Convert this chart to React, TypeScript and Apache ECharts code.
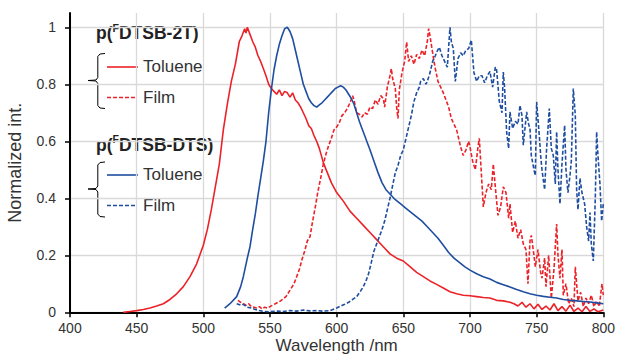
import React, { useEffect, useRef } from "react";
import * as echarts from "echarts";

// ---------- DATA ----------
const xTicks = [400, 450, 500, 550, 600, 650, 700, 750, 800];
const yTicks = [0, 0.2, 0.4, 0.6, 0.8, 1];

// p(FDTSB-2T) Toluene (red solid)
const wlTol2T = [440, 445, 450, 455, 460, 465, 470, 475, 480, 485, 490, 495, 500, 503, 506, 509, 512, 515, 518, 521, 524, 527, 529, 531, 532, 533, 535, 537, 539, 541, 543, 545, 547, 549, 551, 553, 555, 557, 559, 561, 563, 565, 567, 569, 571, 573, 575, 577, 579, 581, 583, 585, 587, 590, 593, 596, 600, 605, 610, 615, 620, 625, 630, 635, 640, 645, 650, 655, 660, 665, 670, 675, 680, 685, 690, 695, 700, 705, 710, 715, 720, 725, 730, 733, 736, 739, 742, 745, 748, 751, 754, 757, 760, 763, 766, 769, 772, 775, 778, 781, 784, 787, 790, 793, 796, 800];
const valTol2T = [0.0, 0.003, 0.006, 0.01, 0.015, 0.022, 0.03, 0.045, 0.065, 0.09, 0.125, 0.17, 0.235, 0.29, 0.36, 0.44, 0.52, 0.64, 0.73, 0.81, 0.87, 0.95, 0.97, 0.995, 0.98, 1.0, 0.975, 0.95, 0.93, 0.9, 0.88, 0.855, 0.83, 0.8, 0.785, 0.775, 0.765, 0.78, 0.76, 0.775, 0.77, 0.755, 0.77, 0.745, 0.735, 0.72, 0.7, 0.68, 0.655, 0.645, 0.62, 0.6, 0.575, 0.525, 0.49, 0.455, 0.42, 0.39, 0.355, 0.33, 0.305, 0.28, 0.255, 0.23, 0.205, 0.19, 0.18, 0.16, 0.14, 0.125, 0.11, 0.098, 0.085, 0.072, 0.065, 0.06, 0.058, 0.055, 0.052, 0.05, 0.042, 0.04, 0.035, 0.03, 0.022, 0.035, 0.018, 0.03, 0.012, 0.028, 0.01, 0.022, 0.008, 0.03, 0.006, 0.02, 0.004, 0.025, 0.003, 0.015, 0.002, 0.02, 0.003, 0.012, 0.002, 0.008];

// p(FDTSB-2T) Film (red dashed)
const wlFilm2T = [526, 528, 530, 532, 534, 536, 538, 540, 542, 544, 546, 548, 550, 552, 554, 556, 558, 560, 562, 564, 566, 568, 570, 572, 574, 576, 578, 580, 582, 584, 586, 588, 590, 592, 594, 596, 598, 600, 602, 604, 606, 608, 610, 612, 613, 615, 617, 619, 621, 623, 625, 627, 629, 631, 633, 635, 636, 638, 640, 641, 642, 644, 645, 646, 647, 649, 651, 652.5, 654, 656, 658, 660, 662, 664, 666, 668, 669, 670, 671, 673, 674, 676, 678, 680, 682, 684, 686, 688, 690, 691, 693, 695, 697, 699, 700, 702, 704, 706, 707, 709, 710, 712, 714, 716, 717.5, 719, 721, 723, 725, 727, 729, 730, 732, 734, 736, 738, 740, 742, 743.5, 745, 746, 748, 749, 751, 753, 754, 756, 757, 759, 761, 763, 765, 766, 767.5, 769, 770, 772, 774, 776, 778, 779, 781, 783, 785, 787, 789, 791, 793, 795, 797, 799, 800];
const valFilm2T = [0.042, 0.035, 0.03, 0.025, 0.03, 0.02, 0.018, 0.015, 0.02, 0.012, 0.018, 0.015, 0.02, 0.025, 0.03, 0.035, 0.04, 0.048, 0.055, 0.07, 0.085, 0.1, 0.125, 0.15, 0.185, 0.215, 0.25, 0.265, 0.32, 0.37, 0.425, 0.47, 0.52, 0.555, 0.585, 0.61, 0.64, 0.65, 0.665, 0.69, 0.7, 0.715, 0.735, 0.76, 0.745, 0.7, 0.695, 0.685, 0.7, 0.695, 0.72, 0.715, 0.745, 0.73, 0.76, 0.75, 0.72, 0.79, 0.83, 0.855, 0.82, 0.785, 0.72, 0.68, 0.78, 0.84, 0.88, 0.948, 0.88, 0.9, 0.87, 0.905, 0.89, 0.92, 0.9, 0.95, 0.995, 0.97, 0.94, 0.88, 0.855, 0.81, 0.79, 0.77, 0.745, 0.72, 0.68, 0.66, 0.64, 0.62, 0.58, 0.55, 0.57, 0.6, 0.58, 0.53, 0.5, 0.58, 0.61, 0.45, 0.37, 0.42, 0.45, 0.43, 0.52, 0.44, 0.34, 0.37, 0.44, 0.42, 0.33, 0.38, 0.28, 0.32, 0.26, 0.29, 0.24, 0.22, 0.1, 0.25, 0.27, 0.2, 0.16, 0.22, 0.14, 0.12, 0.19, 0.09, 0.2, 0.05, 0.15, 0.31, 0.2, 0.12, 0.22, 0.06, 0.1, 0.03, 0.05, 0.02, 0.16, 0.04, 0.07, 0.02, 0.05, 0.03, 0.06, 0.02, 0.04, 0.02, 0.1, 0.06];

// p(FDTSB-DTS) Toluene (blue solid)
const wlTolDTS = [516, 520, 525, 528, 530, 533, 535, 537, 539, 541, 543, 545, 547, 549, 551, 553, 555, 557, 559, 561, 563, 565, 567, 569, 571, 573, 575, 577, 579, 581, 583, 585, 587, 589, 591, 593, 595, 597, 599, 601, 603, 605, 607, 609, 611, 613, 615, 617, 619, 621, 623, 625, 628, 631, 634, 637, 640, 644, 648, 652, 656, 660, 664, 668, 672, 676, 680, 684, 688, 692, 696, 700, 705, 710, 715, 720, 725, 730, 735, 740, 745, 750, 755, 760, 765, 770, 775, 780, 785, 790, 795, 800];
const valTolDTS = [0.015, 0.03, 0.055, 0.09, 0.125, 0.19, 0.23, 0.29, 0.345, 0.41, 0.47, 0.53, 0.6, 0.7, 0.78, 0.85, 0.9, 0.94, 0.97, 0.995, 1.0, 0.985, 0.96, 0.92, 0.88, 0.84, 0.8, 0.775, 0.75, 0.735, 0.725, 0.72, 0.728, 0.735, 0.745, 0.755, 0.765, 0.775, 0.785, 0.79, 0.795, 0.79, 0.78, 0.765, 0.75, 0.73, 0.7, 0.67, 0.645, 0.62, 0.595, 0.57, 0.53, 0.49, 0.455, 0.43, 0.415, 0.395, 0.38, 0.365, 0.35, 0.335, 0.32, 0.3, 0.28, 0.26, 0.235, 0.21, 0.19, 0.175, 0.16, 0.148, 0.135, 0.125, 0.117, 0.105, 0.097, 0.089, 0.08, 0.072, 0.065, 0.06, 0.056, 0.053, 0.05, 0.045, 0.042, 0.04, 0.038, 0.036, 0.033, 0.03];

// p(FDTSB-DTS) Film (blue dashed)
const wlFilmDTS = [525, 528, 530, 533, 536, 539, 542, 545, 550, 555, 560, 565, 570, 575, 580, 585, 590, 595, 600, 603, 606, 609, 612, 615, 618, 620, 622, 624, 626, 628, 630, 632, 634, 636, 638, 640, 642, 644, 646, 648, 650, 652, 654, 656, 658, 660, 662, 663, 665, 667, 668, 670, 672, 674, 675, 677, 679, 681, 683, 685, 686, 687.5, 689, 691, 693, 695, 697, 699, 701, 703, 705, 707, 709, 711, 713, 715, 717, 719, 720, 722, 724, 725, 726, 727.5, 729, 730, 732, 734, 736, 737.5, 739, 740, 742.5, 744, 745, 746, 748, 749, 750, 752, 753, 754, 756, 757.5, 759.5, 761, 762.5, 764, 765, 766, 767.5, 769, 771, 772, 773.5, 775, 776, 777.5, 779, 780, 781, 782.5, 784, 786, 787.5, 789, 790, 791, 792.5, 794, 795, 796, 797.5, 798.75, 800];
const valFilmDTS = [0.03, 0.025, 0.028, 0.018, 0.015, 0.01, 0.006, 0.003, 0.002, 0.004, 0.003, 0.006, 0.004, 0.008, 0.005, 0.006, 0.004, 0.006, 0.015, 0.022, 0.028, 0.035, 0.045, 0.055, 0.075, 0.09, 0.11, 0.136, 0.175, 0.215, 0.24, 0.265, 0.29, 0.32, 0.36, 0.4, 0.445, 0.49, 0.515, 0.55, 0.57, 0.61, 0.65, 0.69, 0.74, 0.77, 0.79, 0.81, 0.82, 0.8, 0.81, 0.84, 0.88, 0.9, 0.913, 0.93, 0.9, 0.88, 0.86, 1.0, 0.95, 0.925, 0.81, 0.89, 0.91, 0.9, 0.92, 0.925, 0.955, 0.84, 0.81, 0.83, 0.83, 0.805, 0.83, 0.845, 0.79, 0.86, 0.85, 0.74, 0.7, 0.843, 0.785, 0.633, 0.575, 0.703, 0.645, 0.67, 0.66, 0.726, 0.69, 0.586, 0.703, 0.66, 0.645, 0.55, 0.5, 0.48, 0.738, 0.62, 0.55, 0.5, 0.43, 0.575, 0.715, 0.575, 0.55, 0.45, 0.633, 0.5, 0.38, 0.52, 0.656, 0.5, 0.42, 0.48, 0.53, 0.785, 0.69, 0.43, 0.36, 0.47, 0.42, 0.38, 0.3, 0.25, 0.35, 0.24, 0.18, 0.4, 0.633, 0.55, 0.45, 0.32, 0.38];

// ---------- STYLE ----------
const RED = "#ec2229";
const BLUE = "#1f4ea1";
const FONT = "'Liberation Sans', Arial, sans-serif";
const DASH = [4, 2];

const zip = (xs: number[], ys: number[]) => xs.map((x, i) => [x, ys[i]]);

export default function App() {
  const ref = useRef<HTMLDivElement>(null);
  useEffect(() => {
    if (!ref.current) return;
    const chart = echarts.init(ref.current, undefined, { renderer: "svg" });
    const brace = (top: number, mid: number, bottom: number) => ({
      type: "polyline",
      shape: {
        points: [
          [105, top], [100, top + 0.5], [97.8, top + 3], [97.8, mid - 3], [96, mid - 0.5], [88, mid],
          [96, mid + 0.5], [97.8, mid + 3], [97.8, bottom - 3], [100, bottom - 0.5], [105, bottom],
        ],
      },
      style: { stroke: "#000", lineWidth: 1, fill: null },
      silent: true,
    });
    const title = (text: string, y: number) => ({
      type: "text",
      x: 96,
      y,
      style: {
        text: `{b|p(}{s|F}{b|${text})}`,
        verticalAlign: "middle",
        rich: {
          b: { fontFamily: FONT, fontWeight: "bold", fontSize: 17.5, fill: "#222", lineHeight: 20, verticalAlign: "bottom" },
          s: { fontFamily: FONT, fontWeight: "bold", fontSize: 10.5, fill: "#222", lineHeight: 20, verticalAlign: "top" },
        },
      },
      silent: true,
    });
    const legLine = (y: number, color: string, dashed: boolean) => ({
      type: "line",
      shape: { x1: 107, y1: y, x2: dashed ? 136 : 138, y2: y },
      style: { stroke: color, lineWidth: 1.6, lineDash: dashed ? DASH : null },
      silent: true,
    });
    const legText = (text: string, y: number) => ({
      type: "text",
      x: 143,
      y,
      style: { text, fontFamily: FONT, fontSize: 17, fill: "#333", verticalAlign: "middle" },
      silent: true,
    });
    chart.setOption({
      animation: false,
      backgroundColor: "#fff",
      grid: { left: 70, right: 14.7, top: 13, bottom: 44.7, containLabel: false, outerBoundsMode: "none" },
      xAxis: {
        type: "value",
        min: 400,
        max: 800,
        interval: 50,
        name: "Wavelength /nm",
        nameLocation: "middle",
        nameGap: 24,
        nameMoveOverlap: false,
        nameTextStyle: { fontFamily: FONT, fontSize: 17, lineHeight: 18, color: "#333" },
        axisLine: { lineStyle: { color: "#000", width: 2 } },
        axisTick: { show: true, inside: false, length: 5, lineStyle: { color: "#000", width: 1.5 } },
        axisLabel: { fontFamily: FONT, fontSize: 14, color: "#333", margin: 9 },
        splitLine: { show: true, lineStyle: { color: "#d9d9d9", width: 1.3 } },
      },
      yAxis: {
        type: "value",
        min: 0,
        max: 1.05,
        interval: 0.2,
        name: "Normalized int.",
        nameLocation: "middle",
        nameGap: 46,
        nameMoveOverlap: false,
        nameTextStyle: { fontFamily: FONT, fontSize: 18, color: "#333" },
        axisLine: { show: true, lineStyle: { color: "#000", width: 2 } },
        axisTick: { show: true, inside: false, length: 5, customValues: yTicks, lineStyle: { color: "#000", width: 1.5 } },
        axisLabel: { fontFamily: FONT, fontSize: 14, color: "#333", margin: 14, customValues: yTicks },
        splitLine: { show: true, lineStyle: { color: "#d9d9d9", width: 1.3 } },
      },
      series: [
        { type: "line", data: zip(wlTol2T, valTol2T), showSymbol: false, lineStyle: { color: RED, width: 1.6 }, itemStyle: { color: RED } },
        { type: "line", data: zip(wlFilm2T, valFilm2T), showSymbol: false, lineStyle: { color: RED, width: 1.6, type: DASH }, itemStyle: { color: RED } },
        { type: "line", data: zip(wlTolDTS, valTolDTS), showSymbol: false, lineStyle: { color: BLUE, width: 1.6 }, itemStyle: { color: BLUE } },
        { type: "line", data: zip(wlFilmDTS, valFilmDTS), showSymbol: false, lineStyle: { color: BLUE, width: 1.6, type: DASH }, itemStyle: { color: BLUE } },
      ],
      graphic: [
        title("DTSB-2T", 32),
        brace(53.5, 80.5, 108.5),
        legLine(67, RED, false),
        legText("Toluene", 66),
        legLine(97.5, RED, true),
        legText("Film", 97),
        title("DTSB-DTS", 143.5),
        brace(162, 189, 217),
        legLine(175, BLUE, false),
        legText("Toluene", 174),
        legLine(205.5, BLUE, true),
        legText("Film", 205),
      ],
    });
    return () => chart.dispose();
  }, []);
  return <div ref={ref} style={{ position: "fixed", left: 0, top: 0, width: 618, height: 357 }} />;
}
